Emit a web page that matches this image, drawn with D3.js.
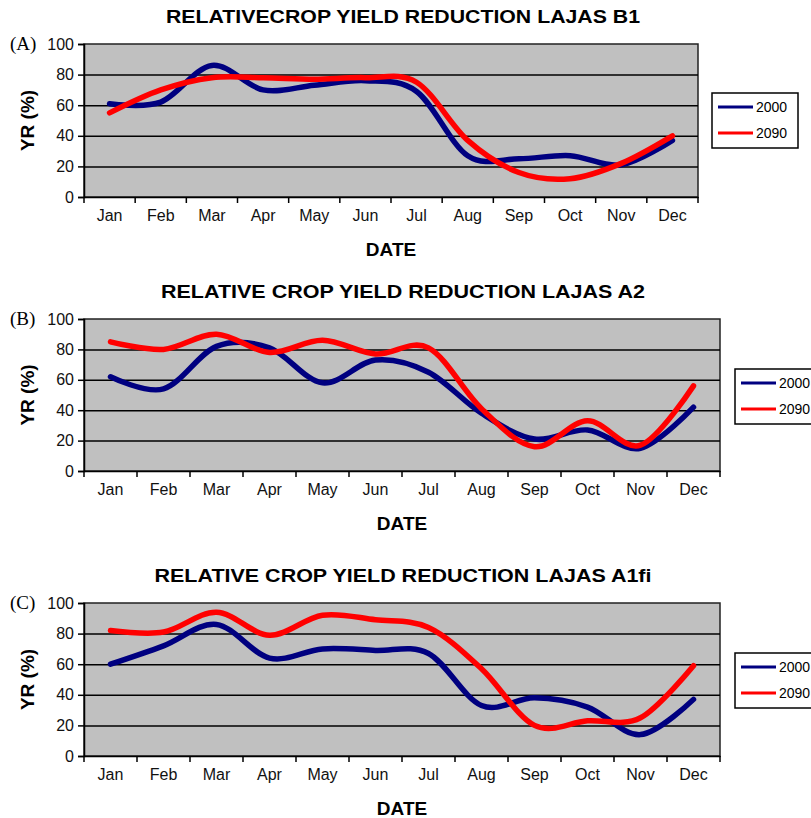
<!DOCTYPE html>
<html>
<head>
<meta charset="utf-8">
<script src="https://d3js.org/d3.v7.min.js"></script>
<style>
  body { margin: 0; background: #fff; }
  svg { display: block; }
  .tick text { font-family: "Liberation Sans", Arial, sans-serif; }
</style>
</head>
<body>
<div id="chart"></div>
<script>
// months on the category axis
var months = ["Jan", "Feb", "Mar", "Apr", "May", "Jun", "Jul", "Aug", "Sep", "Oct", "Nov", "Dec"];
var yTicks = [0, 20, 40, 60, 80, 100];
var seriesNames = ["2000", "2090"];

// (A) B1 scenario
var b1_2000 = [61, 62, 86, 70, 73, 76, 69, 27, 25, 27, 21, 37];
var b1_2090 = [55, 70, 78, 78, 77, 78, 75, 37, 16, 12, 22, 40];
// (B) A2 scenario
var a2_2000 = [62, 54, 82, 81, 58, 73, 65, 38, 21, 27, 15, 42];
var a2_2090 = [85, 80, 90, 78, 86, 77, 81, 41, 16, 33, 17, 56];
// (C) A1fi scenario
var a1fi_2000 = [60, 72, 86, 64, 70, 69, 67, 33, 38, 32, 14, 37];
var a1fi_2090 = [82, 81, 94, 79, 92, 89, 84, 57, 20, 23, 25, 59];

var colors = ["#000080", "#ff0000"];

var svg = d3.select("#chart").append("svg")
    .attr("width", 811)
    .attr("height", 818);

// panel layout (pixels)
var panels = [
  {tag: "(A)", title: "RELATIVECROP YIELD REDUCTION LAJAS B1", titleW: 474,
   left: 84, right: 698, top: 44, bottom: 197, legX: 712, legY: 93, legW: 86,
   s2000: b1_2000, s2090: b1_2090},
  {tag: "(B)", title: "RELATIVE CROP YIELD REDUCTION LAJAS A2", titleW: 484,
   left: 84, right: 720, top: 319, bottom: 471, legX: 735, legY: 369, legW: 86,
   s2000: a2_2000, s2090: a2_2090},
  {tag: "(C)", title: "RELATIVE CROP YIELD REDUCTION LAJAS A1fi", titleW: 497,
   left: 84, right: 720, top: 603, bottom: 756, legX: 735, legY: 653, legW: 86,
   s2000: a1fi_2000, s2090: a1fi_2090}
];

panels.forEach(function(p) {
  var g = svg.append("g");
  var cx = (p.left + p.right) / 2;

  var x = d3.scaleBand().domain(months).range([p.left, p.right]).padding(0);
  var y = d3.scaleLinear().domain([0, 100]).range([p.bottom, p.top]);

  // title
  g.append("text")
      .attr("x", 403)
      .attr("y", p.top - 21)
      .attr("text-anchor", "middle")
      .attr("font-family", "Liberation Sans, Arial, sans-serif")
      .attr("font-weight", "bold")
      .attr("font-size", 18)
      .attr("textLength", p.titleW)
      .attr("lengthAdjust", "spacingAndGlyphs")
      .text(p.title);

  // grey plot area
  g.append("rect")
      .attr("x", p.left).attr("y", p.top)
      .attr("width", p.right - p.left).attr("height", p.bottom - p.top)
      .attr("fill", "#c0c0c0")
      .attr("stroke", "#222").attr("stroke-width", 1.5);

  // gridlines
  g.append("g")
      .attr("transform", "translate(" + p.left + ",0)")
      .call(d3.axisLeft(y).tickValues([20, 40, 60, 80]).tickSize(-(p.right - p.left)).tickFormat(""))
      .call(function(s) { s.select(".domain").remove(); })
      .selectAll("line").attr("stroke", "#000").attr("stroke-width", 1.5);

  // y axis
  var ya = g.append("g")
      .attr("transform", "translate(" + p.left + ",0)")
      .call(d3.axisLeft(y).tickValues(yTicks).tickSize(6).tickPadding(4));
  ya.select(".domain").attr("stroke", "#000").attr("stroke-width", 1.5);
  ya.selectAll(".tick line").attr("stroke", "#000").attr("stroke-width", 1.5);
  ya.selectAll(".tick text").attr("font-size", 16).attr("fill", "#111");

  // x axis: labels at category centres
  var xa = g.append("g")
      .attr("transform", "translate(0," + p.bottom + ")")
      .call(d3.axisBottom(x).tickSize(0).tickPadding(13));
  xa.select(".domain").attr("stroke", "#000").attr("stroke-width", 1.5);
  xa.selectAll(".tick text").attr("font-size", 16).attr("fill", "#111");

  // x axis: tick marks between categories
  var edges = months.map(function(m) { return x(m); }).concat([p.right]);
  g.selectAll(".xedge").data(edges).enter().append("line")
      .attr("x1", function(d) { return d; }).attr("x2", function(d) { return d; })
      .attr("y1", p.bottom).attr("y2", p.bottom + 6)
      .attr("stroke", "#000").attr("stroke-width", 1.5);

  // panel tag
  g.append("text")
      .attr("x", 10).attr("y", p.top + 6)
      .attr("font-family", "Liberation Serif, Times New Roman, serif")
      .attr("font-size", 19)
      .text(p.tag);

  // axis titles
  g.append("text")
      .attr("transform", "translate(34," + ((p.top + p.bottom) / 2) + ") rotate(-90)")
      .attr("text-anchor", "middle")
      .attr("font-family", "Liberation Sans, Arial, sans-serif")
      .attr("font-weight", "bold").attr("font-size", 19)
      .text("YR (%)");

  g.append("text")
      .attr("x", cx).attr("y", p.bottom + 59)
      .attr("text-anchor", "middle")
      .attr("font-family", "Liberation Sans, Arial, sans-serif")
      .attr("font-weight", "bold").attr("font-size", 19)
      .text("DATE");

  // series lines
  var line = d3.line()
      .x(function(d, i) { return x(months[i]) + x.bandwidth() / 2; })
      .y(function(d) { return y(d); })
      .curve(d3.curveCatmullRom.alpha(0));

  [p.s2000, p.s2090].forEach(function(s, i) {
    g.append("path")
        .datum(s)
        .attr("d", line)
        .attr("fill", "none")
        .attr("stroke", colors[i])
        .attr("stroke-width", 5.5)
        .attr("stroke-linejoin", "round")
        .attr("stroke-linecap", "round");
  });

  // legend
  var leg = g.append("g").attr("transform", "translate(" + p.legX + "," + p.legY + ")");
  leg.append("rect")
      .attr("width", p.legW).attr("height", 55)
      .attr("fill", "#fff").attr("stroke", "#000").attr("stroke-width", 1.5);
  seriesNames.forEach(function(n, i) {
    leg.append("line")
        .attr("x1", 6).attr("x2", 41)
        .attr("y1", 14 + i * 26).attr("y2", 14 + i * 26)
        .attr("stroke", colors[i]).attr("stroke-width", 3);
    leg.append("text")
        .attr("x", 44).attr("y", 19 + i * 26)
        .attr("font-family", "Liberation Sans, Arial, sans-serif")
        .attr("font-size", 14)
        .text(n);
  });
});
</script>
</body>
</html>
